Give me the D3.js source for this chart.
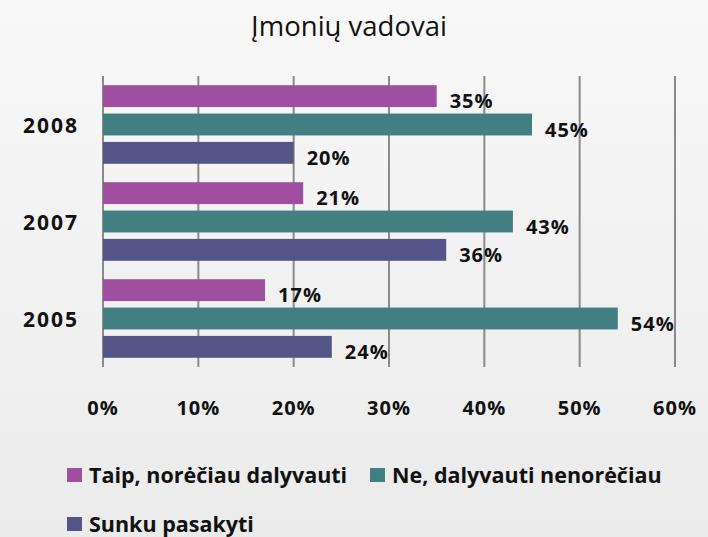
<!DOCTYPE html>
<html lang="lt">
<head>
<meta charset="UTF-8">
<title>Įmonių vadovai</title>
<script src="https://d3js.org/d3.v7.min.js"></script>
<style>
  body { margin: 0; }
  .grid line { stroke: #8a8a8a; stroke-width: 2px; }
  .lbl { font: bold 20px "Open Sans", sans-serif; fill: #111; letter-spacing: 1px; }
  .year { font: bold 21px "Open Sans", sans-serif; fill: #111; letter-spacing: 2px; }
  .leg { font: bold 21.5px "Open Sans", sans-serif; fill: #111; }
  .title { font: 27.5px "Open Sans", sans-serif; fill: #111; }
</style>
</head>
<body>
<script>
  // data
  const years = ["2008", "2007", "2005"];
  const series = ["Taip, norėčiau dalyvauti", "Ne, dalyvauti nenorėčiau", "Sunku pasakyti"];
  const taip = [35, 21, 17];
  const ne = [45, 43, 54];
  const sunku = [20, 36, 24];
  const ticks = [0, 10, 20, 30, 40, 50, 60];
  const colors = ["#a04fa0", "#427f82", "#545488"];

  const width = 708, height = 537;
  const values = [taip, ne, sunku];

  const svg = d3.select("body").append("svg")
    .attr("width", width)
    .attr("height", height);

  const grad = svg.append("defs").append("linearGradient")
    .attr("id", "bg").attr("x1", 0).attr("y1", 0).attr("x2", 0).attr("y2", 1);
  grad.append("stop").attr("offset", "0%").attr("stop-color", "#f8f8f8");
  grad.append("stop").attr("offset", "100%").attr("stop-color", "#ebebeb");
  svg.append("rect").attr("width", width).attr("height", height).attr("fill", "url(#bg)");

  svg.append("text").attr("class", "title")
    .attr("x", 349).attr("y", 36)
    .attr("text-anchor", "middle")
    .text("Įmonių vadovai");

  const x = d3.scaleLinear().domain([0, 60]).range([103, 675]);
  const y0 = d3.scaleBand().domain(years).range([76, 367]);
  const y1 = d3.scaleBand().domain(series).range([0, y0.bandwidth()])
    .paddingInner(0.228).paddingOuter(0.325);

  // vertical gridlines
  svg.append("g").attr("class", "grid")
    .selectAll("line")
    .data(ticks)
    .join("line")
    .attr("x1", d => x(d)).attr("x2", d => x(d))
    .attr("y1", 76).attr("y2", 367);

  // tick labels
  svg.append("g")
    .selectAll("text")
    .data(ticks)
    .join("text")
    .attr("class", "lbl")
    .attr("x", d => x(d)).attr("y", 415)
    .attr("text-anchor", "middle")
    .text(d => d + "%");

  // year labels
  svg.append("g")
    .selectAll("text")
    .data(years)
    .join("text")
    .attr("class", "year")
    .attr("x", 79)
    .attr("y", d => y0(d) + y0.bandwidth() / 2 + 8)
    .attr("text-anchor", "end")
    .text(d => d);

  const rows = [];
  years.forEach((yr, i) => {
    series.forEach((s, j) => rows.push({ year: yr, s, j, v: values[j][i] }));
  });

  const bars = svg.append("g");
  bars.selectAll("rect")
    .data(rows)
    .join("rect")
    .attr("x", x(0))
    .attr("y", d => y0(d.year) + y1(d.s))
    .attr("width", d => x(d.v) - x(0))
    .attr("height", y1.bandwidth())
    .attr("fill", d => colors[d.j]);

  bars.selectAll("text")
    .data(rows)
    .join("text")
    .attr("class", "lbl")
    .attr("x", d => x(d.v) + 13)
    .attr("y", d => y0(d.year) + y1(d.s) + y1.bandwidth() / 2 + 12)
    .text(d => d.v + "%");

  // legend
  const legendPos = [[67, 475], [370, 475], [67, 524]];
  const legend = svg.append("g")
    .selectAll("g")
    .data(series)
    .join("g")
    .attr("transform", (d, i) => `translate(${legendPos[i][0]},${legendPos[i][1]})`);
  legend.append("rect")
    .attr("x", 0).attr("y", -7)
    .attr("width", 15).attr("height", 14)
    .attr("fill", (d, i) => colors[i]);
  legend.append("text")
    .attr("class", "leg")
    .attr("x", 22).attr("y", 8)
    .text(d => d);
</script>
</body>
</html>
